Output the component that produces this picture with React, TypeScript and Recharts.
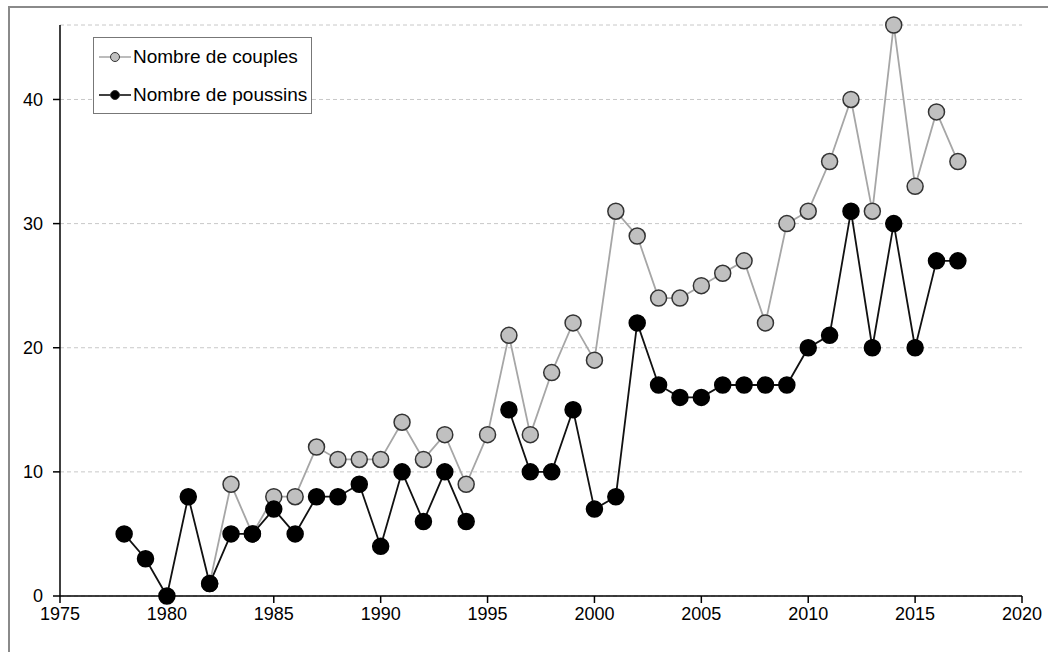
import { LineChart, Line, XAxis, YAxis, CartesianGrid } from "recharts";

// Années de suivi
const YEARS = [
  1978, 1979, 1980, 1981, 1982, 1983, 1984, 1985, 1986, 1987,
  1988, 1989, 1990, 1991, 1992, 1993, 1994, 1995, 1996, 1997,
  1998, 1999, 2000, 2001, 2002, 2003, 2004, 2005, 2006, 2007,
  2008, 2009, 2010, 2011, 2012, 2013, 2014, 2015, 2016, 2017,
];

const COUPLES: (number | null)[] = [
  null, null, null, null, 1, 9, 5, 8, 8, 12,
  11, 11, 11, 14, 11, 13, 9, 13, 21, 13,
  18, 22, 19, 31, 29, 24, 24, 25, 26, 27,
  22, 30, 31, 35, 40, 31, 46, 33, 39, 35,
];

const POUSSINS: (number | null)[] = [
  5, 3, 0, 8, 1, 5, 5, 7, 5, 8,
  8, 9, 4, 10, 6, 10, 6, null, 15, 10,
  10, 15, 7, 8, 22, 17, 16, 16, 17, 17,
  17, 17, 20, 21, 31, 20, 30, 20, 27, 27,
];

const X_TICKS = [1975, 1980, 1985, 1990, 1995, 2000, 2005, 2010, 2015, 2020];
const Y_TICKS = [0, 10, 20, 30, 40];

const LABELS = {
  couples: "Nombre de couples",
  poussins: "Nombre de poussins",
};

const FONT = "'Liberation Sans', Arial, sans-serif";

const data = YEARS.map((year, i) => ({
  year,
  couples: COUPLES[i],
  poussins: POUSSINS[i],
}));

function LegendBox() {
  const row = (color: string, fill: string, text: string) => (
    <div style={{ display: "flex", alignItems: "center", height: 38 }}>
      <svg width={32} height={12} style={{ marginRight: 2 }}>
        <line x1={0} y1={6} x2={32} y2={6} stroke={color} strokeWidth={1.5} />
        <circle cx={16} cy={6} r={4.5} fill={fill} stroke="#333" strokeWidth={1} />
      </svg>
      <span>{text}</span>
    </div>
  );
  return (
    <div
      style={{
        position: "absolute",
        left: 93,
        top: 37,
        border: "1px solid #777",
        background: "#fff",
        width: 219,
        height: 77,
        boxSizing: "border-box",
        padding: "0 0 0 5px",
        fontFamily: FONT,
        fontSize: 19,
        color: "#000",
      }}
    >
      {row("#a6a6a6", "#c0c0c0", LABELS.couples)}
      {row("#000", "#000", LABELS.poussins)}
    </div>
  );
}

export default function App() {
  return (
    <div
      style={{
        position: "absolute",
        left: 0,
        top: 0,
        width: 1048,
        height: 652,
        overflow: "hidden",
        background: "#fff",
      }}
    >
      <div
        style={{
          position: "absolute",
          left: 8,
          top: 6,
          width: 1100,
          height: 700,
          borderTop: "2px solid #8a8a8a",
          borderLeft: "2px solid #8a8a8a",
        }}
      />
      <div style={{ position: "absolute", left: 0, top: 0 }}>
        <LineChart
          width={1048}
          height={652}
          data={data}
          margin={{ top: 25, right: 26, bottom: 26, left: 0 }}
        >
          <CartesianGrid
            vertical={false}
            stroke="#c8c8c8"
            strokeDasharray="4 3"
          />
          <XAxis
            dataKey="year"
            type="number"
            domain={[1975, 2020]}
            ticks={X_TICKS}
            interval={0}
            height={30}
            tickSize={7}
            tickMargin={4}
            stroke="#000"
            strokeWidth={1.5}
            tick={{ fill: "#000", fontSize: 18, fontFamily: FONT }}
          />
          <YAxis
            type="number"
            domain={[0, 46]}
            ticks={Y_TICKS}
            interval={0}
            width={60}
            tickSize={7}
            tickMargin={10}
            stroke="#000"
            strokeWidth={1.5}
            tick={{ fill: "#000", fontSize: 18, fontFamily: FONT }}
          />
          <Line
            dataKey="couples"
            name={LABELS.couples}
            stroke="#a6a6a6"
            strokeWidth={1.8}
            dot={{ r: 8, fill: "#c0c0c0", stroke: "#333", strokeWidth: 1.5 }}
            isAnimationActive={false}
          />
          <Line
            dataKey="poussins"
            name={LABELS.poussins}
            stroke="#111"
            strokeWidth={1.8}
            dot={{ r: 8, fill: "#000", stroke: "#000", strokeWidth: 1.5 }}
            isAnimationActive={false}
          />
        </LineChart>
      </div>
      <LegendBox />
    </div>
  );
}
